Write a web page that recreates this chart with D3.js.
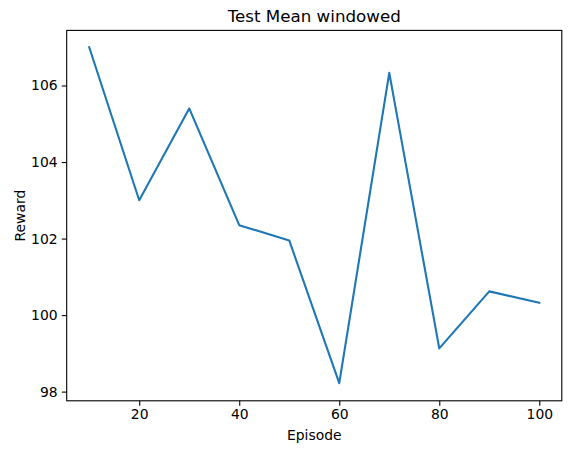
<!DOCTYPE html>
<html>
<head>
<meta charset="utf-8">
<script src="https://cdn.jsdelivr.net/npm/d3@7"></script>
<style>
  body { margin: 0; background: #fff; }
  svg { display: block; font-family: "DejaVu Sans", sans-serif; }
</style>
</head>
<body>
<svg id="chart" width="571" height="453"></svg>
<script>
const episodes = [10, 20, 30, 40, 50, 60, 70, 80, 90, 100];
const rewards = [107.0, 103.0, 105.4, 102.35, 101.95, 98.22, 106.33, 99.13, 100.62, 100.32];
const xTicks = [20, 40, 60, 80, 100];
const yTicks = [98, 100, 102, 104, 106];

const svg = d3.select("#chart");

const plotLeft = 66.7, plotRight = 561.8, plotTop = 30.4, plotBottom = 400.8;

// matplotlib-style 5% margins
const xScale = d3.scaleLinear().domain([5.5, 104.5]).range([plotLeft, plotRight]);
const yScale = d3.scaleLinear().domain([97.76, 107.44]).range([plotBottom, plotTop]);

const line = d3.line()
  .x((d, i) => xScale(episodes[i]))
  .y(d => yScale(d));

svg.append("path")
  .datum(rewards)
  .attr("fill", "none")
  .attr("stroke", "#1f77b4")
  .attr("stroke-width", 2.1)
  .attr("stroke-linejoin", "round")
  .attr("stroke-linecap", "square")
  .attr("d", line);

// frame
svg.append("rect")
  .attr("x", plotLeft)
  .attr("y", plotTop)
  .attr("width", plotRight - plotLeft)
  .attr("height", plotBottom - plotTop)
  .attr("fill", "none")
  .attr("stroke", "#000")
  .attr("stroke-width", 1.1);

const xAxis = svg.append("g")
  .attr("transform", `translate(0,${plotBottom})`)
  .call(d3.axisBottom(xScale).tickValues(xTicks).tickSize(4.9).tickPadding(3.5).tickFormat(d3.format("d")));

const yAxis = svg.append("g")
  .attr("transform", `translate(${plotLeft},0)`)
  .call(d3.axisLeft(yScale).tickValues(yTicks).tickSize(4.9).tickPadding(4.2).tickFormat(d3.format("d")));

[xAxis, yAxis].forEach(a => {
  a.select(".domain").remove();
  a.selectAll(".tick line").attr("stroke", "#000").attr("stroke-width", 1.1);
  a.selectAll(".tick text")
    .attr("fill", "#000")
    .style("font-family", "'DejaVu Sans', sans-serif")
    .style("font-size", "13.9px");
});

svg.append("text")
  .attr("x", (plotLeft + plotRight) / 2)
  .attr("y", 22)
  .attr("text-anchor", "middle")
  .style("font-size", "16.7px")
  .text("Test Mean windowed");

svg.append("text")
  .attr("x", (plotLeft + plotRight) / 2)
  .attr("y", 440)
  .attr("text-anchor", "middle")
  .style("font-size", "13.9px")
  .text("Episode");

svg.append("text")
  .attr("transform", `translate(25,${(plotTop + plotBottom) / 2}) rotate(-90)`)
  .attr("text-anchor", "middle")
  .style("font-size", "13.9px")
  .text("Reward");
</script>
</body>
</html>
